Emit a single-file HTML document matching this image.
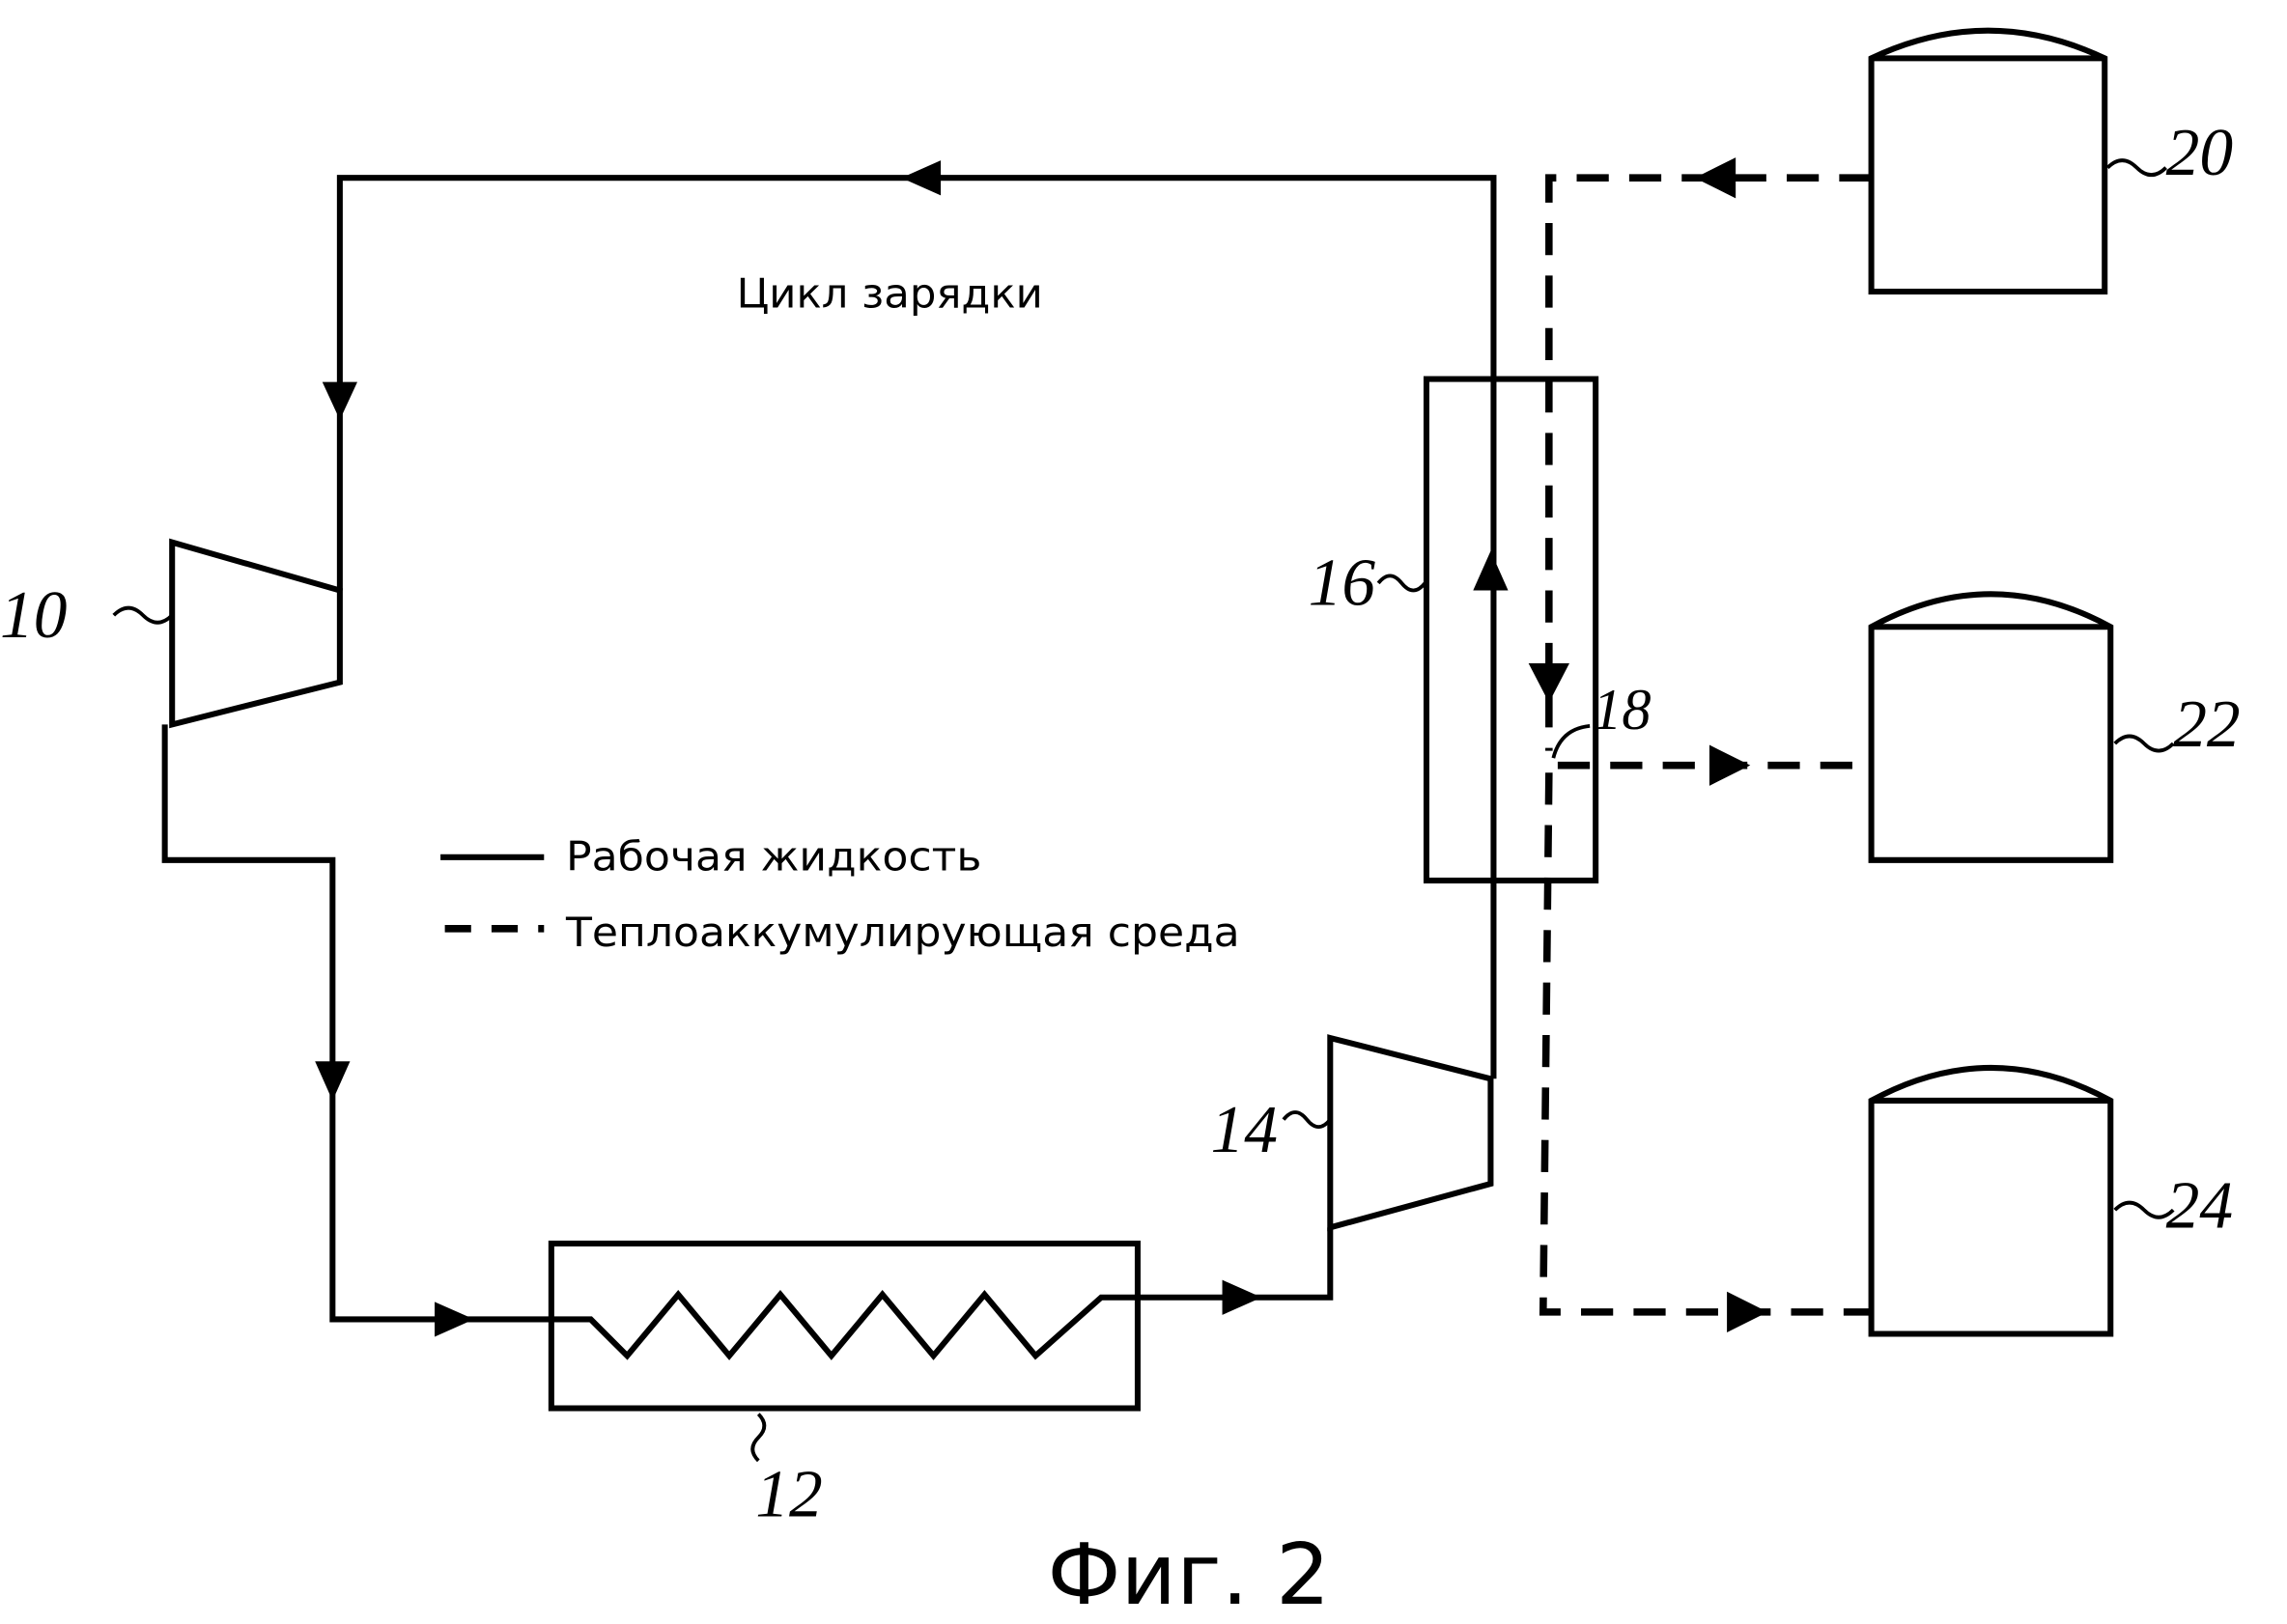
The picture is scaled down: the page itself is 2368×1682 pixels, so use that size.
<!DOCTYPE html>
<html><head><meta charset="utf-8"><style>
html,body{margin:0;padding:0;background:#fff;}
svg{display:block;}
text{font-family:"DejaVu Sans","Liberation Sans",sans-serif;fill:#000;}
.hw{font-family:"Liberation Serif",serif;font-style:italic;}
</style></head><body>
<svg width="2368" height="1682" viewBox="0 0 1568 1114" preserveAspectRatio="none" xmlns="http://www.w3.org/2000/svg">
<g fill="none" stroke="#000" stroke-width="4" stroke-linejoin="miter">
<polyline points="1024,740 1024,122 233,122 233,405"/>
<polygon points="118,372 233,405 233,468 118,497"/>
<polyline points="113,497 113,590 228,590 228,905 378,905"/>
<rect x="378" y="853" width="402" height="113"/>
<polyline points="378,905 405,905 430,930 465,888 500,930 535,888 570,930 605,888 640,930 675,888 710,930 755,890 780,890 912,890 912,842"/>
<polygon points="912,712 1022,740 1022,812 912,842"/>
<rect x="978" y="260" width="116" height="344"/>
<path d="M1283,200 V40 Q1363,2 1443,40 V200 Z"/>
<line x1="1283" y1="40" x2="1443" y2="40"/>
<path d="M1283,590 V430 Q1365,385 1447,430 V590 Z"/>
<line x1="1283" y1="430" x2="1447" y2="430"/>
<path d="M1283,915 V755 Q1365,710 1447,755 V915 Z"/>
<line x1="1283" y1="755" x2="1447" y2="755"/>
</g>
<g fill="none" stroke="#000" stroke-width="5" stroke-dasharray="22,14">
<polyline points="1283,122 1062,122 1062,515"/>
<line x1="1068" y1="525" x2="1283" y2="525"/>
<polyline points="1062,530 1058,900 1283,900"/>
</g>
<g fill="#000">
<polygon points="618,122 645,110 645,134"/>
<polygon points="233,288 221,262 245,262"/>
<polygon points="228,755 216,728 240,728"/>
<polygon points="325,905 298,893 298,917"/>
<polygon points="865,890 838,878 838,902"/>
<polygon points="1022,378 1010,405 1034,405"/>
<polygon points="1162,122 1190,108 1190,136"/>
<polygon points="1062,482 1048,455 1076,455"/>
<polygon points="1200,525 1172,511 1172,539"/>
<polygon points="1212,900 1184,886 1184,914"/>
</g>
<g fill="none" stroke="#000" stroke-width="2.5">
<path d="M78,422 q10,-10 20,0 t20,0"/>
<path d="M520,970 q8,8 0,16 t0,16"/>
<path d="M880,768 q8,-10 16,0 t16,0"/>
<path d="M945,400 q8,-10 16,0 t16,0"/>
<path d="M1065,520 q5,-20 25,-22"/>
<path d="M1445,115 q10,-10 20,0 t20,0"/>
<path d="M1450,510 q10,-10 20,0 t20,0"/>
<path d="M1450,830 q10,-10 20,0 t20,0"/>
</g>
<text class="hw" x="0" y="437" font-size="46">10</text>
<text class="hw" x="518" y="1040" font-size="46">12</text>
<text class="hw" x="830" y="790" font-size="46">14</text>
<text class="hw" x="897" y="415" font-size="46">16</text>
<text class="hw" x="1092" y="500" font-size="40">18</text>
<text class="hw" x="1485" y="120" font-size="46">20</text>
<text class="hw" x="1490" y="512" font-size="46">22</text>
<text class="hw" x="1485" y="842" font-size="46">24</text>
<text x="505" y="211" font-size="28" textLength="210" lengthAdjust="spacingAndGlyphs">Цикл зарядки</text>
<line x1="302" y1="588" x2="373" y2="588" stroke="#000" stroke-width="4"/>
<text x="388" y="597" font-size="28" textLength="285" lengthAdjust="spacingAndGlyphs">Рабочая жидкость</text>
<line x1="305" y1="637" x2="373" y2="637" stroke="#000" stroke-width="5" stroke-dasharray="18,14"/>
<text x="388" y="649" font-size="28" textLength="462" lengthAdjust="spacingAndGlyphs">Теплоаккумулирующая среда</text>
<text x="718" y="1100" font-size="58" textLength="194" lengthAdjust="spacingAndGlyphs">Фиг. 2</text>
</svg>
</body></html>
